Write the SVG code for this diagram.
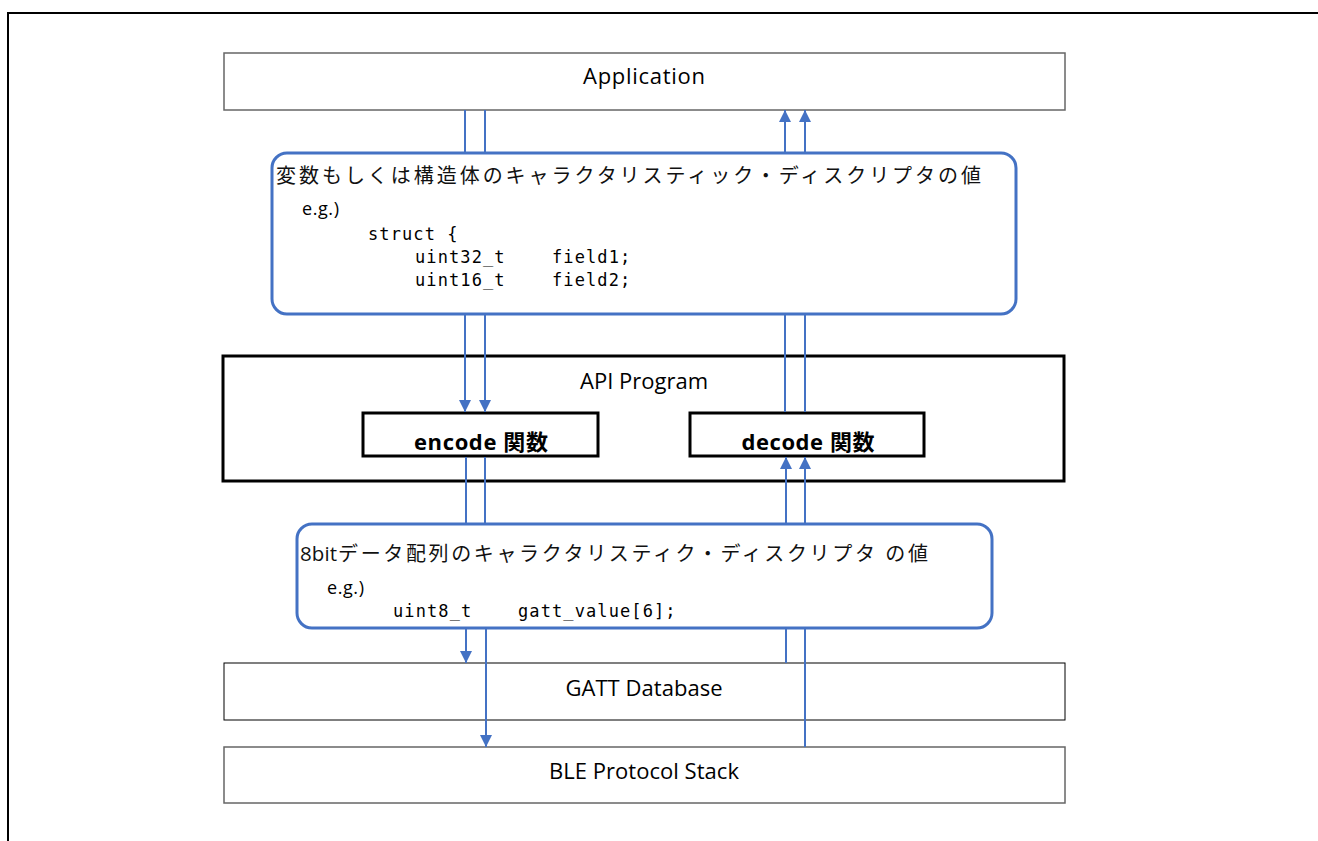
<svg xmlns="http://www.w3.org/2000/svg" width="1318" height="841" viewBox="0 0 1318 841">
<style>
.lbl{font-family:"Open Sans","Noto Sans",sans-serif;font-size:22px;fill:#000;text-anchor:middle}
.bold{font-family:"Open Sans","Noto Sans CJK JP",sans-serif;font-size:22px;font-weight:bold;fill:#000;text-anchor:middle}
.jp{font-family:"Open Sans","Noto Sans CJK JP",sans-serif;font-size:20px;fill:#111}
.eg{font-family:"Open Sans","Noto Sans",sans-serif;font-size:18px;fill:#000}
.mono{font-family:"DejaVu Sans Mono","Liberation Mono",monospace;font-size:17px;fill:#000;letter-spacing:1.1px}
.conn{stroke:#4472C4;stroke-width:2;fill:none}
.round{fill:#fff;stroke:#4472C4;stroke-width:3}
</style>
<defs>
<marker id="ah" viewBox="0 0 12 12" refX="12" refY="6" markerWidth="12" markerHeight="12" markerUnits="userSpaceOnUse" orient="auto">
<path d="M0,0 L12,6 L0,12 Z" fill="#4472C4"/>
</marker>
</defs>
<rect width="1318" height="841" fill="#fff"/>
<path d="M8,841 V13 H1318" fill="none" stroke="#000" stroke-width="2"/>

<g id="application">
<rect x="224" y="53" width="841" height="57" fill="#fff" stroke="#666" stroke-width="1.5"/>
<text class="lbl" x="644" y="84" textLength="122">Application</text>
</g>

<g id="struct-values">
<rect class="round" x="272" y="153" width="744" height="161" rx="15"/>
<text class="jp" x="276" y="183" textLength="705" lengthAdjust="spacing">変数もしくは構造体のキャラクタリスティック・ディスクリプタの値</text>
<text class="eg" x="302" y="215" textLength="37">e.g.)</text>
<text class="mono" x="368" y="240">struct {</text>
<text class="mono" x="415" y="263">uint32_t</text>
<text class="mono" x="552" y="263">field1;</text>
<text class="mono" x="415" y="286">uint16_t</text>
<text class="mono" x="552" y="286">field2;</text>
</g>

<g id="api-program">
<rect x="223" y="356" width="841" height="125" fill="#fff" stroke="#000" stroke-width="3"/>
<text class="lbl" x="644" y="389" textLength="128">API Program</text>
</g>

<g id="encode">
<rect x="363" y="413" width="235" height="43" fill="#fff" stroke="#000" stroke-width="3"/>
<text class="bold" x="481" y="450" textLength="134">encode 関数</text>
</g>

<g id="decode">
<rect x="690" y="413" width="234" height="43" fill="#fff" stroke="#000" stroke-width="3"/>
<text class="bold" x="808" y="450" textLength="133">decode 関数</text>
</g>

<g id="byte-values">
<rect class="round" x="297" y="524" width="695" height="104" rx="15"/>
<text class="jp" x="300" y="561"><tspan font-size="20.5" textLength="37">8bit</tspan><tspan x="338" textLength="590" lengthAdjust="spacing">データ配列のキャラクタリスティク・ディスクリプタ の値</tspan></text>
<text class="eg" x="327" y="594" textLength="37">e.g.)</text>
<text class="mono" x="393" y="617">uint8_t</text>
<text class="mono" x="518" y="617">gatt_value[6];</text>
</g>

<g id="gatt-database">
<rect x="224" y="663" width="841" height="57" fill="#fff" stroke="#000" stroke-width="1"/>
<text class="lbl" x="644" y="696" textLength="157">GATT Database</text>
</g>

<g id="ble-stack">
<rect x="224" y="747" width="841" height="56" fill="#fff" stroke="#666" stroke-width="1.5"/>
<text class="lbl" x="644" y="779" textLength="190">BLE Protocol Stack</text>
</g>

<g id="connectors">
<line class="conn" x1="465" y1="110" x2="465" y2="152"/>
<line class="conn" x1="485" y1="110" x2="485" y2="152"/>
<line class="conn" x1="785" y1="152" x2="785" y2="110" marker-end="url(#ah)"/>
<line class="conn" x1="805" y1="152" x2="805" y2="110" marker-end="url(#ah)"/>

<line class="conn" x1="465" y1="315" x2="465" y2="412" marker-end="url(#ah)"/>
<line class="conn" x1="485" y1="315" x2="485" y2="412" marker-end="url(#ah)"/>
<line class="conn" x1="785" y1="412" x2="785" y2="315"/>
<line class="conn" x1="805" y1="412" x2="805" y2="315"/>

<line class="conn" x1="466" y1="457" x2="466" y2="523"/>
<line class="conn" x1="485" y1="457" x2="485" y2="523"/>
<line class="conn" x1="786" y1="523" x2="786" y2="457" marker-end="url(#ah)"/>
<line class="conn" x1="805" y1="523" x2="805" y2="457" marker-end="url(#ah)"/>

<line class="conn" x1="466" y1="629" x2="466" y2="663" marker-end="url(#ah)"/>
<line class="conn" x1="486" y1="629" x2="486" y2="747" marker-end="url(#ah)"/>
<line class="conn" x1="786" y1="663" x2="786" y2="629"/>
<line class="conn" x1="805" y1="747" x2="805" y2="629"/>
</g>
</svg>
